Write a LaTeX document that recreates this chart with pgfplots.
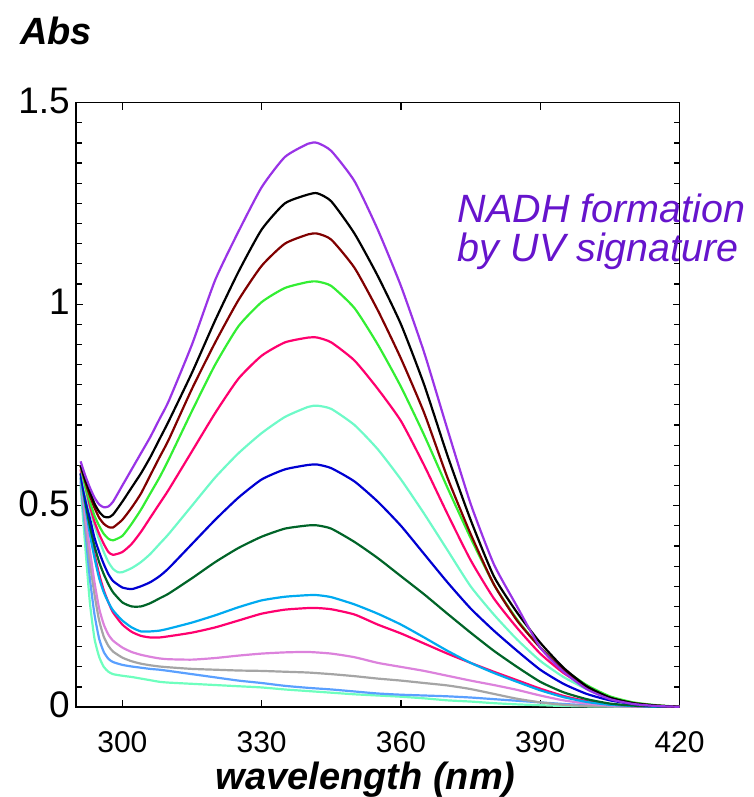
\documentclass[border=0pt]{standalone}
\usepackage{pgfplots}
\pgfplotsset{compat=1.18}
\usepackage{fontspec}
\setmainfont{Liberation Sans}
\definecolor{cpurple}{RGB}{153,51,230}
\definecolor{cbrown}{RGB}{128,0,0}
\definecolor{cgreen}{RGB}{51,238,51}
\definecolor{cpink}{RGB}{255,0,110}
\definecolor{caqua}{RGB}{110,250,200}
\definecolor{cblue}{RGB}{0,0,210}
\definecolor{cdkgreen}{RGB}{0,100,40}
\definecolor{csky}{RGB}{0,170,240}
\definecolor{corchid}{RGB}{220,130,220}
\definecolor{cgrey}{RGB}{165,165,165}
\definecolor{ccorn}{RGB}{90,160,255}
\definecolor{claqua}{RGB}{110,255,190}
\definecolor{ctext}{RGB}{102,20,204}
\begin{document}
\begin{tikzpicture}
\begin{axis}[
  scale only axis, width=604pt, height=605pt,
  xmin=290, xmax=420, ymin=0, ymax=1.5,
  clip=false,
  xtick={300,330,360,390,420}, xticklabels={300,330,360,390,420},
  ytick={0,0.5,1,1.5}, yticklabels={0,0.5,1,1.5},
  minor y tick num=9,
  tick align=inside, tick pos=both,
  major tick length=7pt, minor tick length=6pt,
  every tick/.style={black, line width=1.2pt},
  axis line style={line width=1.6pt},
  yticklabel style={font=\fontsize{37}{37}\selectfont, anchor=east, inner sep=0pt, xshift=-6pt, yshift=2pt},
  xticklabel style={font=\fontsize{30}{30}\selectfont, anchor=north, inner sep=0pt, yshift=-24pt},
  every axis plot/.append style={line width=2.2pt, mark=none, smooth, tension=0.35},
]
% bounding frame
\path (rel axis cs:-0.1258,-0.147) rectangle (rel axis cs:1.1225,1.1697);
% light aqua
\addplot[claqua] coordinates {(291,0.55)(292,0.40)(293,0.26)(294,0.17)(295,0.125)(296,0.10)(297,0.088)(298,0.082)(300,0.078)(302,0.075)(304,0.071)(306,0.067)(308,0.063)(310,0.061)(315,0.058)(320,0.055)(325,0.052)(330,0.049)(335,0.044)(340,0.040)(345,0.036)(350,0.032)(355,0.029)(360,0.026)(365,0.022)(370,0.017)(375,0.014)(380,0.010)(385,0.007)(390,0.005)(395,0.003)(400,0.002)(410,0.001)(420,0.001)};
% cornflower
\addplot[ccorn] coordinates {(291,0.56)(292,0.44)(293,0.32)(294,0.23)(295,0.17)(296,0.137)(297,0.12)(298,0.112)(300,0.105)(302,0.101)(304,0.098)(306,0.095)(308,0.093)(310,0.090)(315,0.082)(320,0.074)(325,0.066)(330,0.060)(335,0.053)(340,0.048)(345,0.044)(350,0.039)(355,0.034)(360,0.031)(365,0.029)(370,0.027)(375,0.024)(380,0.020)(385,0.016)(390,0.012)(395,0.008)(400,0.005)(405,0.003)(410,0.002)(420,0.001)};
% grey
\addplot[cgrey] coordinates {(291,0.57)(292,0.46)(293,0.36)(294,0.28)(295,0.215)(296,0.175)(297,0.152)(298,0.138)(300,0.123)(302,0.114)(304,0.108)(306,0.104)(308,0.101)(310,0.099)(315,0.095)(320,0.093)(325,0.091)(330,0.090)(335,0.088)(340,0.086)(345,0.082)(350,0.077)(355,0.071)(360,0.066)(365,0.060)(370,0.054)(375,0.045)(380,0.033)(385,0.021)(390,0.012)(395,0.006)(400,0.003)(410,0.001)(420,0.001)};
% orchid
\addplot[corchid] coordinates {(291,0.58)(292,0.48)(293,0.39)(294,0.31)(295,0.245)(296,0.205)(297,0.18)(298,0.165)(300,0.148)(302,0.137)(304,0.130)(306,0.125)(308,0.121)(310,0.119)(315,0.118)(320,0.122)(325,0.128)(330,0.133)(335,0.136)(340,0.137)(345,0.133)(350,0.124)(355,0.110)(360,0.100)(365,0.090)(370,0.078)(375,0.066)(380,0.055)(385,0.043)(390,0.029)(395,0.017)(400,0.009)(405,0.004)(410,0.002)(420,0.001)};
% pink 2
\addplot[cpink] coordinates {(291,0.59)(292,0.52)(293,0.45)(294,0.38)(295,0.33)(296,0.29)(297,0.26)(298,0.235)(300,0.205)(302,0.187)(304,0.177)(306,0.173)(308,0.173)(310,0.176)(315,0.185)(320,0.198)(325,0.215)(330,0.232)(335,0.242)(340,0.246)(342,0.246)(345,0.243)(350,0.230)(355,0.205)(360,0.183)(365,0.158)(370,0.133)(375,0.110)(380,0.088)(385,0.067)(390,0.046)(395,0.028)(400,0.015)(405,0.007)(410,0.003)(415,0.001)(420,0.001)};
% sky blue
\addplot[csky] coordinates {(291,0.57)(292,0.50)(293,0.43)(294,0.37)(295,0.32)(296,0.285)(297,0.26)(298,0.24)(300,0.215)(302,0.198)(304,0.188)(306,0.188)(308,0.190)(310,0.195)(315,0.210)(320,0.228)(325,0.248)(330,0.265)(335,0.274)(340,0.278)(342,0.278)(345,0.273)(350,0.255)(355,0.232)(360,0.205)(365,0.173)(370,0.140)(375,0.110)(380,0.085)(385,0.063)(390,0.042)(395,0.025)(400,0.013)(405,0.006)(410,0.003)(415,0.001)(420,0.001)};
% dark green
\addplot[cdkgreen] coordinates {(291,0.58)(292,0.51)(293,0.45)(294,0.40)(295,0.36)(296,0.33)(297,0.305)(298,0.285)(300,0.26)(302,0.25)(304,0.25)(306,0.258)(308,0.27)(310,0.282)(315,0.32)(320,0.36)(325,0.395)(330,0.423)(335,0.443)(340,0.451)(342,0.451)(345,0.443)(350,0.41)(355,0.37)(360,0.325)(365,0.28)(370,0.232)(375,0.185)(380,0.14)(385,0.10)(390,0.063)(395,0.037)(400,0.02)(405,0.009)(410,0.004)(415,0.002)(420,0.001)};
% blue
\addplot[cblue] coordinates {(291,0.58)(292,0.52)(293,0.47)(294,0.42)(295,0.385)(296,0.355)(297,0.33)(298,0.313)(300,0.297)(302,0.293)(304,0.30)(306,0.31)(308,0.325)(310,0.345)(315,0.405)(320,0.465)(325,0.52)(330,0.565)(335,0.59)(340,0.601)(342,0.602)(345,0.593)(350,0.56)(355,0.51)(360,0.45)(365,0.38)(370,0.31)(375,0.245)(380,0.19)(385,0.14)(390,0.093)(395,0.058)(400,0.033)(405,0.017)(410,0.008)(415,0.003)(420,0.001)};
% aquamarine
\addplot[caqua] coordinates {(291,0.60)(292,0.54)(293,0.49)(294,0.45)(295,0.415)(296,0.385)(297,0.36)(298,0.343)(299,0.335)(300,0.335)(302,0.345)(304,0.36)(306,0.38)(308,0.405)(310,0.43)(315,0.50)(320,0.57)(325,0.63)(330,0.68)(335,0.72)(340,0.745)(342,0.748)(345,0.74)(350,0.70)(355,0.64)(360,0.565)(365,0.48)(370,0.39)(375,0.30)(380,0.23)(385,0.168)(390,0.115)(395,0.075)(400,0.045)(405,0.023)(410,0.01)(415,0.004)(420,0.001)};
% pink
\addplot[cpink] coordinates {(291,0.60)(292,0.55)(293,0.50)(294,0.46)(295,0.43)(296,0.405)(297,0.385)(298,0.378)(300,0.385)(302,0.405)(304,0.435)(306,0.47)(308,0.505)(310,0.54)(315,0.635)(320,0.73)(325,0.815)(330,0.872)(335,0.905)(340,0.917)(342,0.917)(345,0.905)(350,0.86)(355,0.79)(360,0.71)(365,0.60)(370,0.48)(375,0.365)(380,0.27)(385,0.197)(390,0.133)(395,0.085)(400,0.05)(405,0.025)(410,0.011)(415,0.004)(420,0.001)};
% green
\addplot[cgreen] coordinates {(291,0.60)(292,0.55)(293,0.51)(294,0.475)(295,0.45)(296,0.43)(297,0.418)(298,0.414)(300,0.425)(302,0.455)(304,0.49)(306,0.53)(308,0.57)(310,0.615)(315,0.735)(320,0.85)(325,0.945)(330,1.005)(335,1.04)(340,1.055)(342,1.056)(345,1.045)(350,0.99)(355,0.90)(360,0.795)(365,0.675)(370,0.545)(375,0.42)(380,0.305)(385,0.218)(390,0.148)(395,0.095)(400,0.055)(405,0.027)(410,0.012)(415,0.005)(420,0.001)};
% brown
\addplot[cbrown] coordinates {(291,0.60)(292,0.56)(293,0.525)(294,0.495)(295,0.47)(296,0.455)(297,0.447)(298,0.446)(300,0.465)(302,0.495)(304,0.53)(306,0.575)(308,0.62)(310,0.664)(315,0.79)(320,0.905)(325,1.01)(330,1.095)(335,1.15)(340,1.173)(342,1.175)(345,1.16)(350,1.09)(355,0.985)(360,0.865)(365,0.73)(370,0.57)(375,0.43)(380,0.305)(385,0.215)(390,0.148)(395,0.092)(400,0.05)(405,0.023)(410,0.01)(415,0.004)(420,0.001)};
% black
\addplot[black] coordinates {(291,0.60)(292,0.565)(293,0.535)(294,0.505)(295,0.485)(296,0.473)(297,0.471)(298,0.478)(300,0.51)(302,0.545)(304,0.58)(306,0.62)(308,0.665)(310,0.71)(315,0.83)(320,0.96)(325,1.08)(330,1.185)(335,1.25)(340,1.272)(342,1.275)(345,1.255)(350,1.175)(355,1.07)(360,0.95)(365,0.80)(370,0.625)(375,0.465)(380,0.325)(385,0.235)(390,0.16)(395,0.098)(400,0.052)(405,0.024)(410,0.01)(415,0.004)(420,0.001)};
% purple
\addplot[cpurple] coordinates {(291,0.61)(292,0.575)(293,0.545)(294,0.52)(295,0.503)(296,0.496)(297,0.498)(298,0.51)(300,0.55)(302,0.59)(304,0.63)(306,0.67)(308,0.715)(310,0.76)(315,0.90)(320,1.06)(325,1.18)(330,1.29)(335,1.365)(340,1.398)(342,1.40)(345,1.38)(350,1.305)(355,1.185)(360,1.045)(365,0.88)(370,0.69)(375,0.505)(380,0.355)(385,0.25)(390,0.148)(395,0.088)(400,0.045)(405,0.02)(410,0.008)(415,0.003)(420,0.001)};
% texts
\node[anchor=base west, inner sep=0pt, font=\fontsize{38}{38}\selectfont\bfseries\itshape] at (rel axis cs:-0.0927,1.0953) {Abs};
\node[anchor=base, inner sep=0pt, font=\fontsize{38}{38}\selectfont\bfseries\itshape] at (rel axis cs:0.480,-0.1355) {wavelength (nm)};
\node[anchor=base west, inner sep=0pt, text=ctext, font=\fontsize{39.5}{39.5}\selectfont\itshape] at (rel axis cs:0.6325,0.8013) {NADH formation};
\node[anchor=base west, inner sep=0pt, text=ctext, font=\fontsize{39.5}{39.5}\selectfont\itshape] at (rel axis cs:0.6325,0.7368) {by UV signature};
\end{axis}
\end{tikzpicture}
\end{document}
